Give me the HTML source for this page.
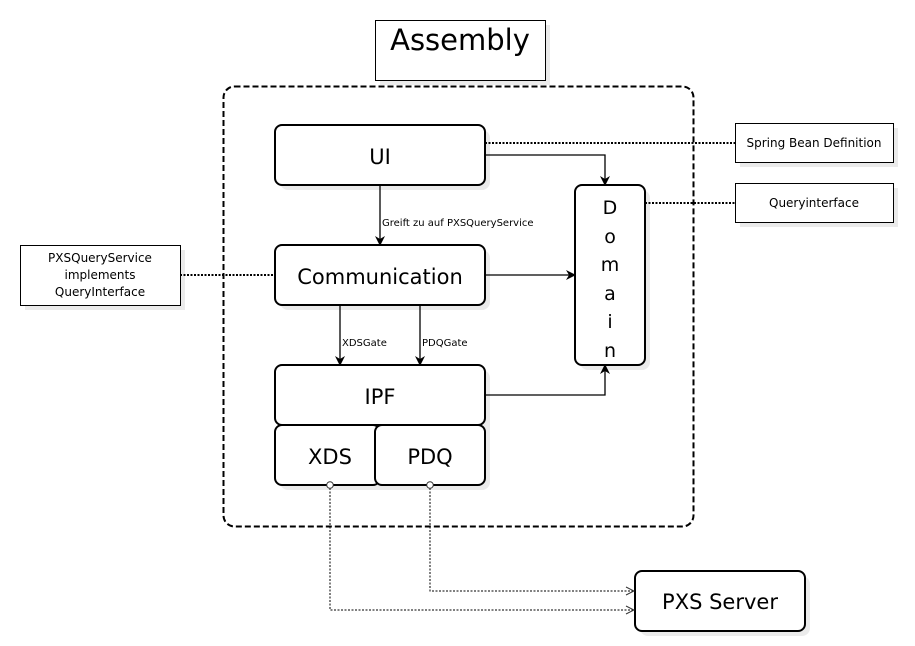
<!DOCTYPE html>
<html><head><meta charset="utf-8"><style>
html,body{margin:0;padding:0;background:#fff;width:915px;height:646px;overflow:hidden}
svg text{font-family:"DejaVu Sans","Liberation Sans",sans-serif;fill:#000}
</style></head><body>
<svg width="915" height="646" viewBox="0 0 915 646" xmlns="http://www.w3.org/2000/svg">
<defs>
<marker id="a" markerWidth="10" markerHeight="10" refX="9" refY="5" orient="auto" markerUnits="userSpaceOnUse"><path d="M0,0 L10,5 L0,10 L3,5 Z" fill="#000"/></marker>
<marker id="o" markerWidth="10" markerHeight="10" refX="9" refY="5" orient="auto" markerUnits="userSpaceOnUse"><path d="M1,1 L9,5 L1,9" fill="none" stroke="#333" stroke-width="1"/></marker>
</defs>
<g fill="#ddd" opacity="0.6">
<rect x="380" y="25" width="170" height="60"/>
<rect x="740" y="128" width="158" height="39"/>
<rect x="740" y="188" width="158" height="39"/>
<rect x="25" y="250" width="160" height="60"/>
<rect x="280" y="130" width="210" height="60" rx="8"/>
<rect x="280" y="250" width="210" height="60" rx="8"/>
<rect x="280" y="370" width="210" height="120" rx="8"/>
<rect x="580" y="190" width="70" height="180" rx="8"/>
<rect x="640" y="576" width="170" height="60" rx="8"/>
</g>
<rect x="375.5" y="20.5" width="170" height="60" fill="#fff" stroke="#000"/>
<text x="460" y="50" font-size="29" text-anchor="middle">Assembly</text>
<rect x="223.5" y="86.5" width="470" height="440" rx="11" fill="none" stroke="#000" stroke-width="2" stroke-dasharray="6,3"/>
<!-- dotted -->
<g stroke="#000" stroke-width="2" stroke-dasharray="2,1.5" fill="none">
<line x1="485" y1="143" x2="735" y2="143"/>
<line x1="645" y1="203" x2="735" y2="203"/>
<line x1="180" y1="275" x2="275" y2="275"/>
</g>
<rect x="735.5" y="123.5" width="158" height="39" fill="#fff" stroke="#000"/>
<text x="814" y="147" font-size="12" text-anchor="middle">Spring Bean Definition</text>
<rect x="735.5" y="183.5" width="158" height="39" fill="#fff" stroke="#000"/>
<text x="814" y="207" font-size="12" text-anchor="middle">Queryinterface</text>
<rect x="20.5" y="245.5" width="160" height="60" fill="#fff" stroke="#000"/>
<text x="100" y="262" font-size="12" text-anchor="middle">PXSQueryService</text>
<text x="100" y="279" font-size="12" text-anchor="middle">implements</text>
<text x="100" y="296" font-size="12" text-anchor="middle">QueryInterface</text>
<!-- arrows -->
<g stroke="#000" stroke-width="1.3" fill="none">
<path d="M485,155 H605 V185" marker-end="url(#a)"/>
<path d="M485,275 H575" marker-end="url(#a)"/>
<path d="M485,395 H605 V365" marker-end="url(#a)"/>
<path d="M380,185 V245" marker-end="url(#a)"/>
<path d="M340,305 V365" marker-end="url(#a)"/>
<path d="M420,305 V365" marker-end="url(#a)"/>
</g>
<text x="382" y="226" font-size="10">Greift zu auf PXSQueryService</text>
<text x="342" y="346" font-size="10">XDSGate</text>
<text x="422" y="346" font-size="10">PDQGate</text>
<g fill="#fff" stroke="#000" stroke-width="2">
<rect x="275" y="125" width="210" height="60" rx="7"/>
<rect x="275" y="245" width="210" height="60" rx="7"/>
<rect x="275" y="365" width="210" height="60" rx="7"/>
<rect x="275" y="425" width="105" height="60" rx="7"/>
<rect x="375" y="425" width="110" height="60" rx="7"/>
<rect x="575" y="185" width="70" height="180" rx="7"/>
<rect x="635" y="571" width="170" height="60" rx="7"/>
</g>
<text x="380" y="164" font-size="21" text-anchor="middle">UI</text>
<text x="380" y="284" font-size="21" text-anchor="middle">Communication</text>
<text x="380" y="404" font-size="21" text-anchor="middle">IPF</text>
<text x="330" y="464" font-size="21" text-anchor="middle">XDS</text>
<text x="430" y="464" font-size="21" text-anchor="middle">PDQ</text>
<text x="720" y="609" font-size="21" text-anchor="middle">PXS Server</text>
<g font-size="19" text-anchor="middle">
<text x="610" y="214" fill="#600">D</text>
<text x="610" y="243">o</text>
<text x="610" y="271">m</text>
<text x="610" y="300">a</text>
<text x="610" y="328">i</text>
<text x="610" y="357">n</text>
</g>
<g stroke="#000" stroke-width="1" stroke-dasharray="2,1.5" fill="none">
<path d="M330,488 V610 H634" marker-end="url(#o)"/>
<path d="M430,488 V591 H634" marker-end="url(#o)"/>
</g>
<circle cx="330" cy="485" r="3.3" fill="#fff" stroke="#333"/>
<circle cx="430" cy="485" r="3.3" fill="#fff" stroke="#333"/>
</svg>
</body></html>
